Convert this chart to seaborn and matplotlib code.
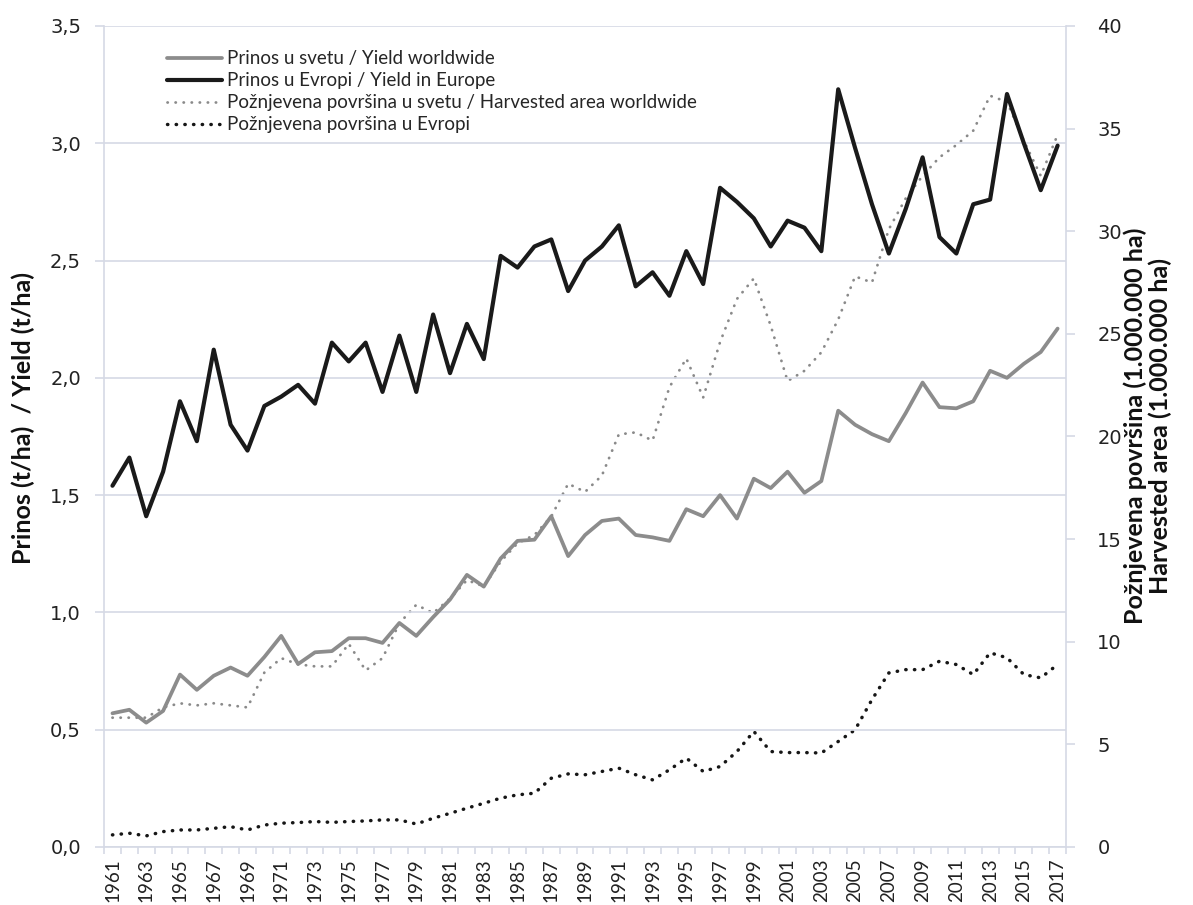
# Prinos i požnjevena površina - svet / Evropa, 1961-2017
import numpy as np
import pandas as pd
import matplotlib.pyplot as plt
import seaborn as sns
from matplotlib import font_manager

sns.set_style("white")
plt.rcParams['font.family'] = ['DejaVu Sans']

# uski font za nazive osa ako postoji
fontovi = {f.name for f in font_manager.fontManager.ttflist}
uski = "Liberation Sans Narrow" if "Liberation Sans Narrow" in fontovi else "Lato"
vel_naziva = 16.5 if uski == "Liberation Sans Narrow" else 18

# Podaci (očitani sa grafika)
godine = list(range(1961, 2018))

prinos_svet = [0.57, 0.585, 0.53, 0.58, 0.735, 0.67, 0.73, 0.765, 0.73, 0.81,
               0.90, 0.78, 0.83, 0.835, 0.89, 0.89, 0.87, 0.955, 0.90, 0.98,
               1.055, 1.16, 1.11, 1.23, 1.305, 1.31, 1.41, 1.24, 1.33, 1.39,
               1.40, 1.33, 1.32, 1.305, 1.44, 1.41, 1.50, 1.40, 1.57, 1.53,
               1.60, 1.51, 1.56, 1.86, 1.80, 1.76, 1.73, 1.85, 1.98, 1.875,
               1.87, 1.90, 2.03, 2.00, 2.06, 2.11, 2.21]

prinos_evropa = [1.54, 1.66, 1.41, 1.60, 1.90, 1.73, 2.12, 1.80, 1.69, 1.88,
                 1.92, 1.97, 1.89, 2.15, 2.07, 2.15, 1.94, 2.18, 1.94, 2.27,
                 2.02, 2.23, 2.08, 2.52, 2.47, 2.56, 2.59, 2.37, 2.50, 2.56,
                 2.65, 2.39, 2.45, 2.35, 2.54, 2.40, 2.81, 2.75, 2.68, 2.56,
                 2.67, 2.64, 2.54, 3.23, 2.98, 2.74, 2.53, 2.72, 2.94, 2.60,
                 2.53, 2.74, 2.76, 3.21, 3.00, 2.80, 2.99]

povrsina_svet = [6.3, 6.3, 6.3, 6.8, 7.0, 6.9, 7.0, 6.9, 6.8, 8.5,
                 9.2, 8.9, 8.8, 8.8, 9.9, 8.6, 9.2, 10.9, 11.8, 11.4,
                 12.1, 13.0, 12.7, 13.9, 14.8, 15.2, 16.1, 17.7, 17.3, 18.1,
                 20.1, 20.2, 19.8, 22.4, 23.8, 21.9, 24.6, 26.7, 27.7, 25.4,
                 22.7, 23.2, 24.1, 25.7, 27.8, 27.5, 30.1, 31.6, 32.7, 33.6,
                 34.2, 34.9, 36.6, 36.3, 34.4, 32.7, 34.7]

povrsina_evropa = [0.59, 0.67, 0.54, 0.75, 0.83, 0.83, 0.91, 0.99, 0.83, 1.07,
                   1.16, 1.19, 1.24, 1.20, 1.24, 1.27, 1.32, 1.32, 1.12, 1.40,
                   1.64, 1.89, 2.13, 2.38, 2.54, 2.62, 3.35, 3.56, 3.52, 3.68,
                   3.84, 3.52, 3.27, 3.76, 4.33, 3.68, 3.92, 4.65, 5.63, 4.65,
                   4.60, 4.60, 4.58, 5.14, 5.71, 7.18, 8.48, 8.64, 8.64, 9.05,
                   8.89, 8.40, 9.46, 9.22, 8.40, 8.24, 8.89]

nazivi = ["Prinos u svetu / Yield worldwide",
          "Prinos u Evropi / Yield in Europe",
          "Požnjevena površina u svetu / Harvested area worldwide",
          "Požnjevena površina u Evropi"]

df = pd.DataFrame({"godina": godine,
                   "prinos_svet": prinos_svet,
                   "prinos_evropa": prinos_evropa,
                   "povrsina_svet": povrsina_svet,
                   "povrsina_evropa": povrsina_evropa})

boja_mreze = "#d5d9e5"

fig = plt.figure(figsize=(11.93, 9.05), dpi=100)
ax = fig.add_axes([0.0872, 0.0641, 0.8064, 0.9072])
ax2 = ax.twinx()

# desna osa - površine (tačkaste linije)
sns.lineplot(data=df, x="godina", y="povrsina_svet", ax=ax2, color="#8a8a8a",
             lw=2.0, linestyle=(0, (0.1, 2.8)), dash_capstyle="round")
l3 = ax2.get_lines()[-1]
sns.lineplot(data=df, x="godina", y="povrsina_evropa", ax=ax2, color="#161616",
             lw=2.5, linestyle=(0, (0.1, 2.4)), dash_capstyle="round")
l4 = ax2.get_lines()[-1]

# leva osa - prinosi
sns.lineplot(data=df, x="godina", y="prinos_svet", ax=ax, color="#8c8c8c", lw=2.7)
l1 = ax.get_lines()[-1]
sns.lineplot(data=df, x="godina", y="prinos_evropa", ax=ax, color="#1a1a1a", lw=3.0)
l2 = ax.get_lines()[-1]
for l in (l1, l2):
    l.set_solid_joinstyle("round")

ax.set_zorder(ax2.get_zorder() + 1)
ax.patch.set_visible(False)

ax.set_xlim(1960.5, 2017.5)
ax.set_ylim(0, 3.5)
ax2.set_ylim(0, 40)

ax.set_xlabel("")
ax.set_ylabel("")
ax2.set_xlabel("")
ax2.set_ylabel("")

# mreža i ose
ax.yaxis.grid(True, color=boja_mreze, lw=1.2)
ax.set_axisbelow(True)
for s in ["top", "right"]:
    ax.spines[s].set_visible(False)
for s in ["left", "bottom"]:
    ax.spines[s].set_color(boja_mreze)
    ax.spines[s].set_linewidth(1.2)
for s in ["top", "left", "bottom"]:
    ax2.spines[s].set_visible(False)
ax2.spines["right"].set_color(boja_mreze)
ax2.spines["right"].set_linewidth(1.2)

ax.set_yticks(np.arange(0, 3.51, 0.5))
ax.set_yticklabels([f"{v:.1f}".replace(".", ",") for v in np.arange(0, 3.51, 0.5)])
ax.tick_params(axis="y", left=True, length=6.5, width=1.2, color=boja_mreze,
               pad=10, labelsize=14, labelcolor="#222222")

ax.set_xticks(godine[::2])
ax.set_xticklabels([str(g) for g in godine[::2]], rotation=90,
                   fontfamily="Lato", fontsize=13.5, color="#222222")
ax.set_xticks(np.arange(1960.5, 2018, 1), minor=True)
ax.tick_params(axis="x", which="major", length=0, pad=8)
ax.tick_params(axis="x", which="minor", bottom=True, length=5, width=1.2,
               color=boja_mreze)

ax2.set_yticks(np.arange(0, 41, 5))
ax2.tick_params(axis="y", right=True, length=6.5, width=1.2, color=boja_mreze,
                pad=16, labelsize=14, labelcolor="#222222")

# legenda
ax.legend([l1, l2, l3, l4], nazivi, loc="upper left",
          bbox_to_anchor=(0.14, 0.9445), bbox_transform=fig.transFigure,
          frameon=False, borderpad=0, borderaxespad=0, handlelength=2.95,
          handletextpad=0.27, labelspacing=0.27,
          prop={"family": "Lato", "size": 13.5})

# nazivi osa
fig.text(0.0193, 0.538, "Prinos (t/ha)  / Yield (t/ha)", rotation=90,
         ha="center", va="center", fontsize=vel_naziva, fontweight="bold",
         fontfamily=uski, color="#111111")
fig.text(0.962, 0.529,
         "Požnjevena površina (1.000.000 ha)\nHarvested area (1.000.000 ha)",
         rotation=90, ha="center", va="center", multialignment="center",
         fontsize=vel_naziva, fontweight="bold", fontfamily=uski,
         color="#111111", linespacing=1.05)

fig.savefig("out.png", dpi=100)
